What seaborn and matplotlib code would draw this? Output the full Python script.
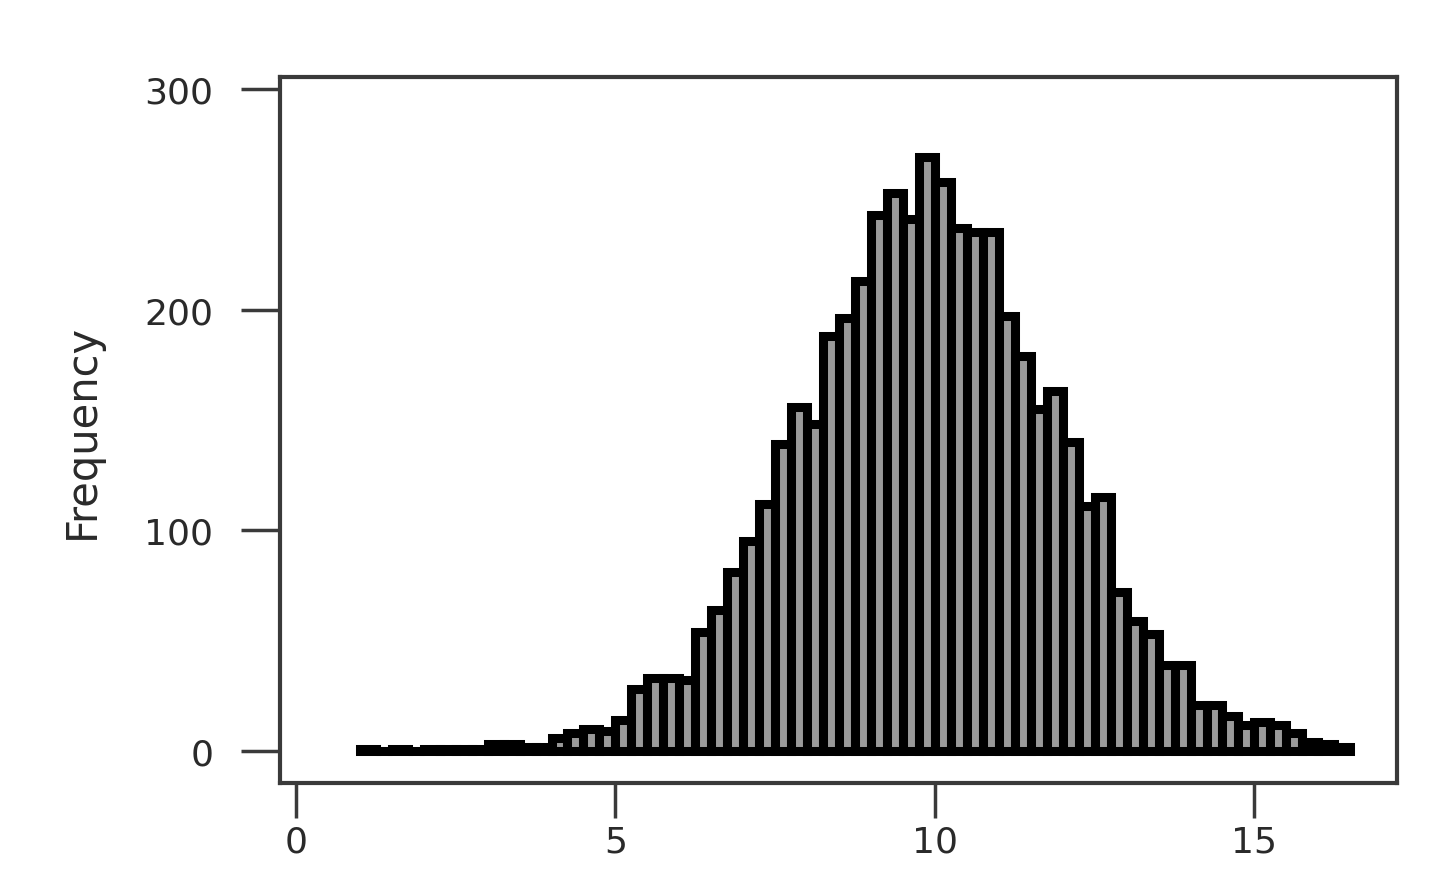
import numpy as np
import pandas as pd
import seaborn as sns
import matplotlib.pyplot as plt

# ---------------------------------------------------------
# data: histogram with bins of width 0.25
# ---------------------------------------------------------
bin_start = 1.0
bin_width = 0.25
counts = [1, 0, 1, 0, 1, 1, 1, 1,
          3, 3, 2, 2, 6, 8, 10, 9,
          14, 28, 33, 33, 32, 54, 64, 81,
          95, 112, 139, 156, 148, 188, 196, 213,
          243, 253, 241, 269, 258, 237, 235, 235,
          197, 179, 155, 163, 140, 111, 115, 72,
          59, 53, 39, 39, 21, 21, 16, 12,
          13, 12, 8, 4, 3, 2]
x_ticks = [0, 5, 10, 15]
y_ticks = [0, 100, 200, 300]
y_label = "Frequency"

bin_end = bin_start + bin_width * len(counts)
centers = bin_start + bin_width * (np.arange(len(counts)) + 0.5)
df = pd.DataFrame({'x': centers, 'n': counts})

# ---------------------------------------------------------
# style
# ---------------------------------------------------------
sns.set_theme(style='white')
plt.rcParams['font.family'] = ['DejaVu Sans']
text_col = '#2a2a2a'
box_col = '#3a3a3a'

fig = plt.figure(figsize=(14.4, 8.95), dpi=100)
ax = fig.add_axes([0.1944, 0.124, 0.7757, 0.7888])

sns.histplot(data=df, x='x', weights='n', binwidth=bin_width,
             binrange=(bin_start, bin_end), ax=ax,
             color='#9a9a9a', edgecolor='black', linewidth=6.5, alpha=1)

ax.set_xlim(-0.25, 17.23)
ax.set_ylim(-14.5, 305.4)
ax.set_xticks(x_ticks)
ax.set_yticks(y_ticks)

for s in ax.spines.values():
    s.set_visible(True)
    s.set_color(box_col)
    s.set_linewidth(3)

ax.tick_params(axis='x', direction='out', length=25, width=2.5, color=box_col,
               labelsize=26, labelcolor=text_col, pad=5, bottom=True)
ax.tick_params(axis='y', direction='out', length=28, width=2.5, color=box_col,
               labelsize=26, labelcolor=text_col, pad=20, left=True)

ax.set_xlabel('')
ax.set_ylabel(y_label, fontsize=30, color=text_col, labelpad=30)

fig.savefig('out.png', dpi=100, facecolor='white')
